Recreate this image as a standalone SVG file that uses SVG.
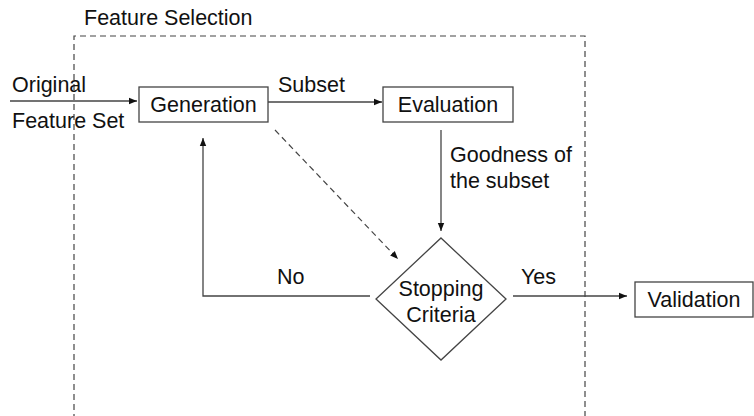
<svg xmlns="http://www.w3.org/2000/svg" width="754" height="416" viewBox="0 0 754 416">
<style>
text{font-family:"Liberation Sans",Arial,sans-serif;font-size:21.5px;fill:#111}
.box{fill:#fff;stroke:#444;stroke-width:1.3}
.ln{fill:none;stroke:#444;stroke-width:1.3}
.dash{fill:none;stroke:#444;stroke-width:1.2;stroke-dasharray:6 4}
</style>
<defs>
<marker id="ah" viewBox="0 0 10 10" refX="10" refY="5" markerWidth="8" markerHeight="8" markerUnits="userSpaceOnUse" orient="auto">
<path d="M0,1 L10,5 L0,9 z" fill="#111"/>
</marker>
</defs>
<rect width="754" height="416" fill="#fff"/>
<g id="feature-selection">
<path class="dash" d="M74,420 V36 H585 V420"/>
<text x="84" y="25">Feature Selection</text>
</g>
<g id="connectors">
<line class="ln" x1="10" y1="101" x2="137" y2="101" marker-end="url(#ah)"/>
<line class="ln" x1="268" y1="102" x2="382" y2="102" marker-end="url(#ah)"/>
<line class="ln" x1="441" y1="130" x2="441" y2="231" marker-end="url(#ah)"/>
<line class="dash" x1="275" y1="130" x2="398" y2="259" marker-end="url(#ah)"/>
<polyline class="ln" points="370,296 203,296 203,138" marker-end="url(#ah)"/>
<line class="ln" x1="513" y1="296" x2="627" y2="296" marker-end="url(#ah)"/>
<text x="12" y="92">Original</text>
<text x="12" y="128">Feature Set</text>
<text x="278" y="92">Subset</text>
<text x="450" y="162">Goodness of</text>
<text x="450" y="188">the subset</text>
<text x="277" y="284">No</text>
<text x="521" y="284">Yes</text>
</g>
<g id="generation">
<rect class="box" x="139" y="87" width="129" height="35"/>
<text x="203.5" y="112" text-anchor="middle">Generation</text>
</g>
<g id="evaluation">
<rect class="box" x="383" y="87" width="130" height="35"/>
<text x="448" y="112" text-anchor="middle">Evaluation</text>
</g>
<g id="stopping-criteria">
<polygon class="box" points="441,238 506,299 441,360 376,299"/>
<text x="441" y="296" text-anchor="middle">Stopping</text>
<text x="441" y="322" text-anchor="middle">Criteria</text>
</g>
<g id="validation">
<rect class="box" x="635" y="282" width="118" height="35"/>
<text x="694" y="307" text-anchor="middle">Validation</text>
</g>
</svg>
